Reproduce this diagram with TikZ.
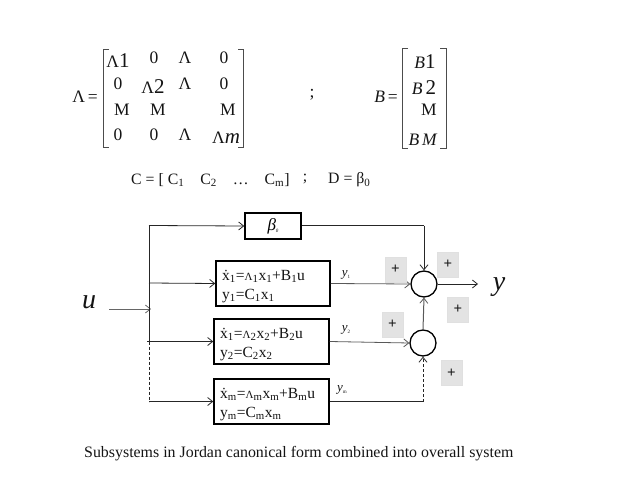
\documentclass[tikz,border=0pt]{standalone}
\usepackage{fontspec}
\setmainfont{Liberation Serif}
\usetikzlibrary{arrows.meta}
\newcommand{\sbs}[1]{\textsubscript{#1}}
\newcommand{\ssL}{{\fontsize{11}{11}\selectfont Λ}}
\definecolor{txt}{RGB}{20,20,20}
\tikzset{
  x=1pt,y=-1pt,
  ent/.style={font=\fontsize{17.5}{19}\selectfont,inner sep=0,text=txt},
  big/.style={font=\fontsize{17}{19}\selectfont\itshape,inner sep=0,text=txt},
  eqn/.style={font=\fontsize{15.8}{17}\selectfont,inner sep=0,anchor=west,text=txt},
  block/.style={draw=black,line width=1.5pt,fill=white,minimum width=#1,inner sep=0},
  sys/.style={align=left,anchor=west,inner sep=0,font=\fontsize{15.5}{19}\selectfont,text=txt},
  arr/.style={draw=black!85,line width=0.8pt,-{Straight Barb[length=5pt,width=8pt,line width=0.8pt]}},
  wire/.style={draw=black!85,line width=0.8pt},
  brk/.style={draw=black!70,line width=0.8pt},
  sumc/.style={draw=black,line width=1.3pt,circle,inner sep=0,minimum size=26pt,fill=white},
  plusbox/.style={draw=black!12,line width=0.8pt,fill=black!11,minimum width=21pt,minimum height=25pt,inner sep=0,font=\fontsize{15}{15}\selectfont\bfseries,text=black!90},
  lab/.style={inner sep=0,font=\fontsize{13}{13}\selectfont\itshape,text=txt},
}
\begin{document}
\begin{tikzpicture}
\useasboundingbox (0,0) rectangle (638,479);
% Lambda matrix
\node[ent] (leq) at (85,97) {Λ\,=};
\draw[brk] (109,49) -- (103,49) -- (103,147) -- (109,147);
\draw[brk] (238,49) -- (243,49) -- (243,147) -- (238,147);
\node[ent] (a11) at (118,61) {Λ{\fontsize{21}{21}\selectfont 1}};
\node[ent] (a12) at (154,58) {0};
\node[ent] (a13) at (185,58) {Λ};
\node[ent] (a14) at (224,58) {0};
\node[ent] (a21) at (118,84) {0};
\node[ent] (a22) at (153,87) {Λ{\fontsize{21}{21}\selectfont 2}};
\node[ent] (a23) at (185,84) {Λ};
\node[ent] (a24) at (224,84) {0};
\node[ent] (a31) at (122,110) {M};
\node[ent] (a32) at (158,110) {M};
\node[ent] (a34) at (228,110) {M};
\node[ent] (a41) at (118,135) {0};
\node[ent] (a42) at (154,135) {0};
\node[ent] (a43) at (185,135) {Λ};
\node[ent] (a44) at (226,138) {Λ{\fontsize{21}{21}\selectfont\itshape m}};
\node[ent] (semi) at (312,95) {;};
% B matrix
\node[ent] (beq) at (386,97) {\textit{B}\,=};
\draw[brk] (408,48) -- (402,48) -- (402,148) -- (408,148);
\draw[brk] (440,48) -- (446,48) -- (446,148) -- (440,148);
\node[ent] (b1) at (425,62) {\textit{B}{\fontsize{21}{21}\selectfont 1}};
\node[ent] (b2) at (424,88) {\textit{B}\,{\fontsize{21}{21}\selectfont 2}};
\node[ent] (b3) at (429,110) {M};
\node[ent] (b4) at (423,140) {\textit{B\,M}};
% C, D
\node[eqn] (ceq) at (131,180) {C = [ C\sbs{1}\hspace{16pt}C\sbs{2}\hspace{16pt}…\hspace{16pt}C\sbs{m}]};
\node[ent,font=\fontsize{15.8}{17}\selectfont] (semi2) at (305,179) {;};
\node[eqn] (deq) at (328,180) {D = β\sbs{0}};
% blocks
\node[block=56pt,minimum height=26pt] (beta) at (273,226) {\fontsize{17}{17}\selectfont\itshape β\raisebox{-2pt}{\fontsize{5}{5}\selectfont 0}};
\node[block=114pt,minimum height=45pt] (s1) at (273,283.5) {};
\node[block=115pt,minimum height=45pt] (s2) at (271.5,341.5) {};
\node[block=115pt,minimum height=45pt] (s3) at (271.5,401.5) {};
\node[sys] (t1) at (222,286.5) {\.x\sbs{1}=\ssL\sbs{1}x\sbs{1}+B\sbs{1}u\\y\sbs{1}=C\sbs{1}x\sbs{1}};
\node[sys] (t2) at (220,344.5) {\.x\sbs{1}=\ssL\sbs{2}x\sbs{2}+B\sbs{2}u\\y\sbs{2}=C\sbs{2}x\sbs{2}};
\node[sys] (t3) at (220,404.5) {\.x\sbs{m}=\ssL\sbs{m}x\sbs{m}+B\sbs{m}u\\y\sbs{m}=C\sbs{m}x\sbs{m}};
% sums
\node[sumc] (sa) at (424,284) {};
\node[sumc] (sb) at (423,343) {};
% coordinates
\coordinate (ustart) at (109,309);
\coordinate (bus) at (151,309);
\coordinate (bustop) at (149,225.5);
\coordinate (bus1) at (149,283);
\coordinate (bus2) at (147,341.5);
\coordinate (bus2b) at (149,341.5);
\coordinate (bus3) at (149,401.5);
\coordinate (betacorner) at (424,225.5);
\coordinate (ycorner) at (423,401.5);
\coordinate (yout) at (478,284);
% wires
\draw[arr,draw=black!60,line width=1pt] (ustart) -- (bus);
\draw[wire] (bus2b) -- (bustop);
\draw[arr] (bustop) -- (beta.west);
\draw[arr] (bus1) -- (s1.west);
\draw[arr] (bus2) -- (s2.west);
\draw[wire,densely dashed] (bus2b) -- (bus3);
\draw[arr] (bus3) -- (s3.west);
\draw[wire] (beta.east |- betacorner) -- (betacorner);
\draw[arr] (betacorner) -- (sa.north);
\draw[arr,draw=black!65] (s1.east) -- (sa.west);
\draw[arr,draw=black!65] (s2.east) -- (sb.west);
\draw[arr,draw=black!65,line width=1pt] (sb.north) -- (sa.south);
\draw[wire] (s3.east) -- (ycorner);
\draw[arr,densely dashed] (ycorner) -- (sb.south);
\draw[arr] (sa.east) -- (yout);
% labels
\node[big,font=\fontsize{28}{28}\selectfont\itshape] (ulab) at (89,302) {u};
\node[big,font=\fontsize{28}{28}\selectfont\itshape] (ylab) at (499,287) {y};
\node[lab] (y1) at (346,275) {y\raisebox{-2pt}{\fontsize{5}{5}\selectfont\upshape 1}};
\node[lab] (y2) at (346,330) {y\raisebox{-2pt}{\fontsize{5}{5}\selectfont\upshape 2}};
\node[lab] (ym) at (342,390) {y\raisebox{-2pt}{\fontsize{5}{5}\selectfont\upshape m}};
% plus boxes
\node[plusbox] (p1) at (395.5,269.5) {+};
\node[plusbox] (p2) at (448,264.5) {+};
\node[plusbox] (p3) at (458,309.5) {+};
\node[plusbox] (p4) at (392.5,324.5) {+};
\node[plusbox] (p5) at (451.5,373) {+};
% caption
\node[eqn,font=\fontsize{15.9}{17}\selectfont] (cap) at (84,454) {Subsystems in Jordan canonical form combined into overall system};
\end{tikzpicture}
\end{document}
